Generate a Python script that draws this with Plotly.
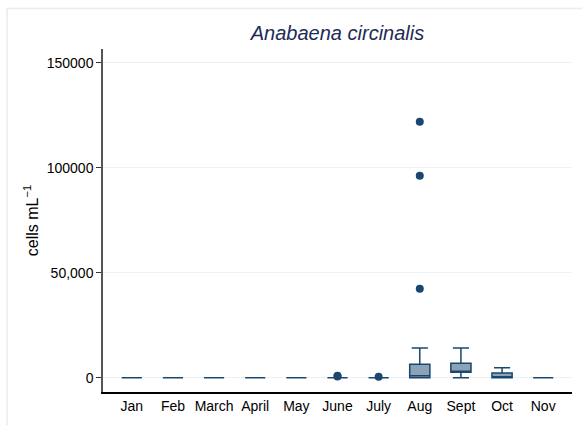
import plotly.graph_objects as go

months = ["Jan", "Feb", "March", "April", "May", "June", "July", "Aug", "Sept", "Oct", "Nov"]

# box statistics, cells per mL
lower = [0, 0, 0, 0, 0, 0, 0, 0, 0, 0, 0]
q1 = [0, 0, 0, 0, 0, 0, 0, 0, 2600, 0, 0]
med = [0, 0, 0, 0, 0, 0, 0, 900, 3000, 300, 0]
q3 = [0, 0, 0, 0, 0, 0, 0, 6400, 6900, 2200, 0]
upper = [0, 0, 0, 0, 0, 0, 0, 14100, 14100, 4750, 0]

# outside values
out_month = ["June", "June", "July", "Aug", "Aug", "Aug"]
out_val = [600, 900, 450, 42300, 96200, 121900]

navy = "#1a476f"
font = "Liberation Sans, Arial, Helvetica, sans-serif"

fig = go.Figure()

fig.add_trace(go.Box(
    x=months,
    lowerfence=lower,
    q1=q1,
    median=med,
    q3=q3,
    upperfence=upper,
    width=0.49,
    whiskerwidth=0.8,
    line=dict(color=navy, width=1.5),
    fillcolor="rgba(26,71,111,0.5)",
    boxpoints=False,
    hoverinfo="skip",
))

fig.add_trace(go.Scatter(
    x=out_month,
    y=out_val,
    mode="markers",
    marker=dict(color=navy, size=8),
    hoverinfo="skip",
))

# light outer frame like the stata graph region
fig.add_shape(type="rect", xref="paper", yref="paper",
              x0=-0.2046, x1=1.03, y0=-0.12, y1=1.118,
              line=dict(color="#e6eef0", width=1.5), layer="below")

fig.update_layout(
    width=582,
    height=425,
    margin=dict(l=103, r=10, t=49, b=33),
    paper_bgcolor="white",
    plot_bgcolor="white",
    showlegend=False,
    font=dict(family=font, size=14, color="black"),
    title=dict(
        text="<i>Anabaena circinalis</i>",
        x=0.5, xref="paper", xanchor="center",
        y=1 - 33 / 425, yref="container", yanchor="middle",
        font=dict(family=font, size=20, color="#1e2b58"),
    ),
    xaxis=dict(
        type="category",
        categoryorder="array",
        categoryarray=months,
        range=[-0.7, 10.7],
        showgrid=False,
        zeroline=False,
        showline=True,
        linecolor="black",
        linewidth=1.5,
        ticks="",
        tickfont=dict(size=14, color="black"),
    ),
    yaxis=dict(
        range=[-6800, 156500],
        tickvals=[0, 50000, 100000, 150000],
        ticktext=["0", "50,000", "100000", "150000"],
        showgrid=True,
        gridcolor="#eaf2f3",
        gridwidth=1,
        zeroline=False,
        showline=True,
        linecolor="#555555",
        linewidth=1.5,
        ticks="outside",
        ticklen=5,
        tickcolor="#333333",
        tickwidth=1,
        tickfont=dict(size=14, color="black"),
        title=dict(text="cells mL<sup>−1</sup>", font=dict(size=16, color="black"), standoff=4),
    ),
)

# drop the page's default body margin so the figure sits at the window corner
fig.write_html(
    "out.html",
    config={"displayModeBar": False},
    post_script="document.body.style.margin='0';",
)
